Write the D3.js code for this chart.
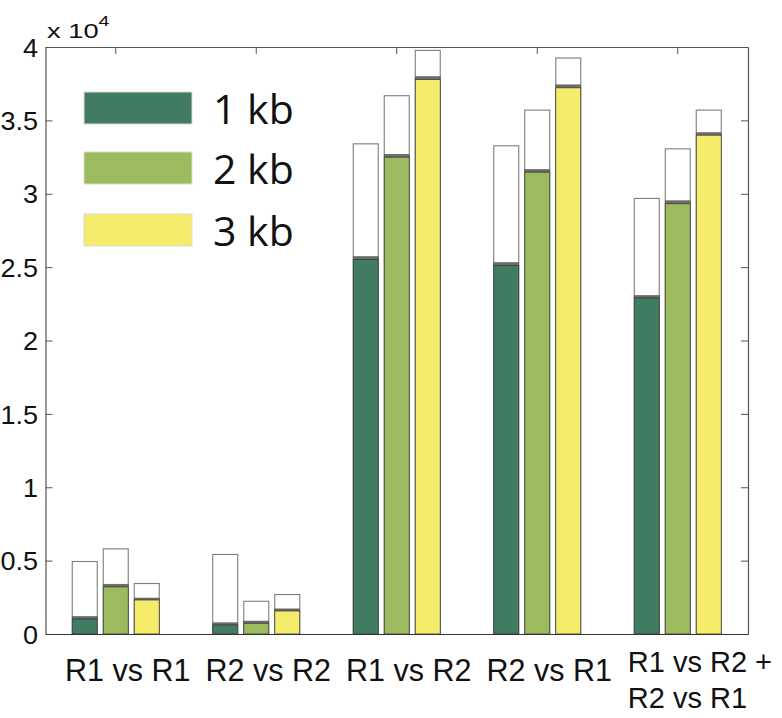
<!DOCTYPE html>
<html>
<head>
<meta charset="utf-8">
<script src="https://cdn.jsdelivr.net/npm/d3@7"></script>
<style>
  html, body { margin: 0; padding: 0; background: #ffffff; }
  svg { display: block; }
</style>
</head>
<body>
<svg id="chart" width="782" height="718"></svg>
<script>
// ---- data ----
const categories = ["R1 vs R1", "R2 vs R2", "R1 vs R2", "R2 vs R1", "R1 vs R2 +\nR2 vs R1"];
const series = ["1 kb", "2 kb", "3 kb"];
const colors = ["#417b61", "#9cbb5f", "#f5ec6b"];
// lower (coloured) segment
const kb1Values = [1020, 615, 25520, 25120, 22900];
const kb2Values = [3210, 730, 32490, 31470, 29320];
const kb3Values = [2320, 1570, 37790, 37220, 33990];
// thin grey segment above the coloured one
const kb1Band = [170, 150, 200, 190, 170];
const kb2Band = [180, 150, 200, 180, 200];
const kb3Band = [130, 140, 190, 200, 170];
// total height (white segment reaches this)
const kb1Totals = [4940, 5420, 33400, 33270, 29680];
const kb2Totals = [5800, 2230, 36680, 35700, 33060];
const kb3Totals = [3440, 2690, 39770, 39250, 35700];
const yTicks = [0, 5000, 10000, 15000, 20000, 25000, 30000, 35000, 40000];

const values = [kb1Values, kb2Values, kb3Values];
const bands = [kb1Band, kb2Band, kb3Band];
const totals = [kb1Totals, kb2Totals, kb3Totals];

const rows = [];
categories.forEach((c, i) => {
  series.forEach((s, j) => {
    rows.push({cat: c, ser: s, j, value: values[j][i], band: bands[j][i], total: totals[j][i]});
  });
});

// ---- layout ----
const svg = d3.select("#chart");
const plotLeft = 45.5, plotRight = 748, plotTop = 47, plotBottom = 634;

const x = d3.scaleBand().domain(categories).range([plotLeft, plotRight]).padding(0);
const xi = d3.scaleBand().domain(series)
  .range([-x.bandwidth() * 0.331, x.bandwidth() * 0.331])
  .paddingInner(0.194).paddingOuter(0.097);
const y = d3.scaleLinear().domain([0, 40000]).range([plotBottom, plotTop]);

const g = svg.append("g");

const barX = d => x(d.cat) + x.bandwidth() / 2 + xi(d.ser);

// white total bars
g.selectAll("rect.total").data(rows).join("rect")
  .attr("class", "total")
  .attr("x", barX)
  .attr("width", xi.bandwidth())
  .attr("y", d => y(d.total))
  .attr("height", d => y(0) - y(d.total))
  .attr("fill", "#ffffff")
  .attr("stroke", "#7d7d7d")
  .attr("stroke-width", 1.1);

// grey band
g.selectAll("rect.band").data(rows).join("rect")
  .attr("class", "band")
  .attr("x", barX)
  .attr("width", xi.bandwidth())
  .attr("y", d => y(d.value + d.band))
  .attr("height", d => y(d.value) - y(d.value + d.band))
  .attr("fill", "#6c6c6c")
  .attr("stroke", "#5a5a5a")
  .attr("stroke-width", 0.6);

// coloured bars
g.selectAll("rect.val").data(rows).join("rect")
  .attr("class", "val")
  .attr("x", barX)
  .attr("width", xi.bandwidth())
  .attr("y", d => y(d.value))
  .attr("height", d => y(0) - y(d.value))
  .attr("fill", d => colors[d.j])
  .attr("stroke", "#3a3a3a")
  .attr("stroke-width", 0.8);

// ---- axes ----
const axisColor = "#555";
const styleAxis = sel => {
  sel.selectAll("path.domain").attr("stroke", axisColor).attr("stroke-width", 1.2);
  sel.selectAll(".tick line").attr("stroke", axisColor).attr("stroke-width", 1);
};

const yAxis = g.append("g").attr("transform", `translate(${plotLeft},0)`)
  .call(d3.axisLeft(y).tickValues(yTicks).tickSizeInner(-7).tickSizeOuter(0).tickPadding(9)
    .tickFormat(d => String(d / 10000)));
styleAxis(yAxis);
yAxis.selectAll(".tick text")
  .attr("font-family", "'Liberation Sans', Arial, sans-serif")
  .attr("font-size", 25.5).attr("fill", "#111")
  .attr("x", 0)
  .attr("transform", "translate(-7.5,1) scale(1.06,1)");

const yAxisR = g.append("g").attr("transform", `translate(${plotRight},0)`)
  .call(d3.axisRight(y).tickValues(yTicks).tickSizeInner(-7).tickSizeOuter(0).tickFormat(""));
styleAxis(yAxisR);

const xTop = g.append("g").attr("transform", `translate(0,${plotTop})`)
  .call(d3.axisTop(x).tickSizeInner(-7).tickSizeOuter(0).tickFormat(""));
styleAxis(xTop);
const xBot = g.append("g").attr("transform", `translate(0,${plotBottom})`)
  .call(d3.axisBottom(x).tickSizeInner(0).tickSizeOuter(0).tickFormat(""));
styleAxis(xBot);
xBot.selectAll("path.domain").attr("stroke", "#333");

// category labels
const labelG = g.append("g")
  .attr("font-family", "'Liberation Sans', Arial, sans-serif")
  .attr("fill", "#111");
categories.forEach(c => {
  const lines = c.split("\n");
  const cx = x(c) + x.bandwidth() / 2;
  if (lines.length === 1) {
    labelG.append("text")
      .attr("x", cx + 12).attr("y", 681)
      .attr("text-anchor", "middle")
      .attr("font-size", 30.5)
      .text(c);
  } else {
    lines.forEach((ln, k) => {
      labelG.append("text")
        .attr("x", cx - 50).attr("y", 672 + k * 36)
        .attr("text-anchor", "start")
        .attr("font-size", 29)
        .text(ln);
    });
  }
});

// exponent label
const expT = svg.append("text")
  .attr("transform", "translate(47,38) scale(1.3,1)")
  .attr("font-family", "'Liberation Sans', Arial, sans-serif")
  .attr("font-size", 21).attr("fill", "#111");
expT.append("tspan").text("x 10");
expT.append("tspan").attr("dy", -12).attr("font-size", 15).text("4");

// legend
const leg = svg.append("g");
const legY = [92, 152, 214];
series.forEach((s, j) => {
  leg.append("rect")
    .attr("x", 84).attr("y", legY[j])
    .attr("width", 108).attr("height", 32)
    .attr("fill", colors[j])
    .attr("stroke", "#d8dcd2").attr("stroke-width", 1);
  leg.append("text")
    .attr("x", 213).attr("y", legY[j] + 32)
    .attr("font-family", "'Open Sans', 'Noto Sans', sans-serif")
    .attr("font-size", 41).attr("fill", "#111")
    .text(s);
});
</script>
</body>
</html>
